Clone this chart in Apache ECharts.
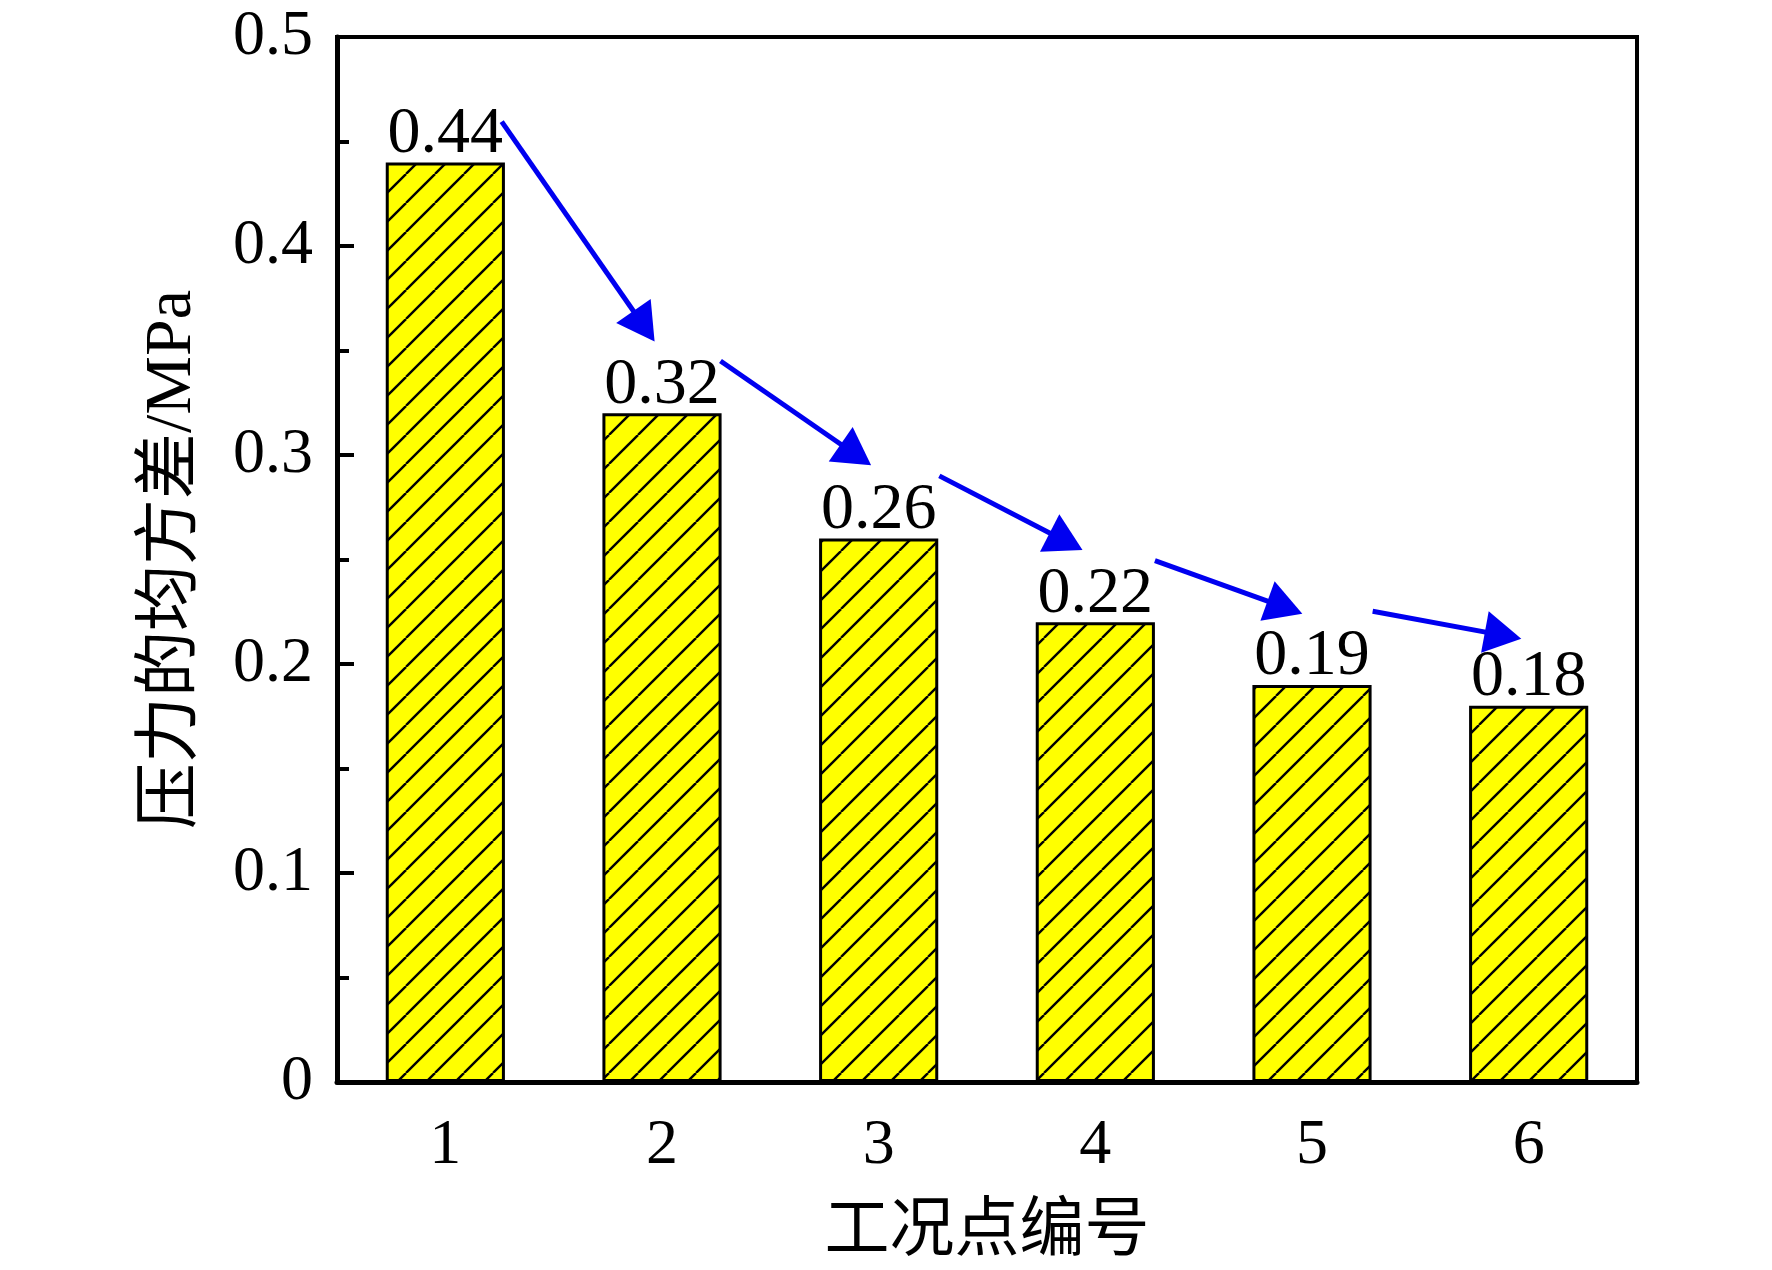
<!DOCTYPE html>
<html>
<head>
<meta charset="utf-8">
<script src="https://cdn.jsdelivr.net/npm/echarts@6/dist/echarts.min.js"></script>
<style>
html,body{margin:0;padding:0;background:#fff;}
#main{width:1772px;height:1270px;}
</style>
</head>
<body>
<div id="main"></div>
<script>
// ---- data ----
var categories = ['1', '2', '3', '4', '5', '6'];
var values = [0.44, 0.32, 0.26, 0.22, 0.19, 0.18];
var yTicks = [0, 0.1, 0.2, 0.3, 0.4, 0.5];
var xName = '工况点编号';
var yName = '压力的均方差/MPa';
// arrow annotations: [start x (category number), start y, end x, end y]
var arrowStarts = [[1.26, 0.4595], [2.27, 0.345], [3.28, 0.290], [4.275, 0.2495], [5.28, 0.2252]];
var arrowEnds = [[1.917, 0.3616], [2.895, 0.3001], [3.865, 0.2586], [4.875, 0.2271], [5.882, 0.2137]];

// ---- hatch pattern ----
function makeHatch() {
  var s = 29;
  var c = document.createElement('canvas');
  c.width = s; c.height = s;
  var g = c.getContext('2d');
  g.fillStyle = '#FFFF00';
  g.fillRect(0, 0, s, s);
  g.strokeStyle = '#000';
  g.lineWidth = 2.4;
  [-s, 0, s].forEach(function (k) {
    g.beginPath();
    g.moveTo(k, s);
    g.lineTo(k + s, 0);
    g.stroke();
  });
  return c;
}

var serif = 'Liberation Serif, "Times New Roman", "Noto Sans CJK SC", serif';
var chart = echarts.init(document.getElementById('main'));

var arrowData = arrowStarts.map(function (p, i) {
  return [{ coord: p }, { coord: arrowEnds[i] }];
});

var option = {
  animation: false,
  backgroundColor: '#fff',
  grid: {
    left: 337, top: 37, right: 135, bottom: 185,
    show: true, borderColor: '#000', borderWidth: 4, backgroundColor: 'transparent'
  },
  xAxis: [{
    type: 'category',
    data: categories,
    z: 10,
    name: xName,
    nameLocation: 'middle',
    nameGap: 118,
    nameTextStyle: { fontFamily: serif, fontSize: 65, color: '#000' },
    axisLine: { lineStyle: { color: '#000', width: 5 } },
    axisTick: { inside: true, alignWithLabel: true, length: 17, lineStyle: { color: '#000', width: 3 } },
    axisLabel: { fontFamily: serif, fontSize: 64, color: '#000', margin: 32 },
    splitLine: { show: false }
  }, {
    type: 'value', min: 0.5, max: 6.5, show: false
  }],
  yAxis: {
    type: 'value',
    min: yTicks[0], max: yTicks[yTicks.length - 1], interval: 0.1,
    z: 10,
    name: yName,
    nameLocation: 'middle',
    nameGap: 131,
    nameTextStyle: { fontFamily: serif, fontSize: 66, color: '#000' },
    axisLine: { show: true, lineStyle: { color: '#000', width: 5 } },
    axisTick: { inside: true, length: 17, lineStyle: { color: '#000', width: 4 } },
    minorTick: { show: true, splitNumber: 2, length: 12, lineStyle: { color: '#000', width: 4 } },
    axisLabel: { fontFamily: serif, fontSize: 64, color: '#000', margin: 24 },
    splitLine: { show: false }
  },
  series: [{
    type: 'bar',
    data: values,
    barWidth: '55%',
    itemStyle: {
      color: { image: makeHatch(), repeat: 'repeat' },
      borderColor: '#000',
      borderWidth: 3
    },
    label: {
      show: true, position: 'top', distance: 0, offset: [0, 5],
      fontFamily: serif, fontSize: 66, color: '#000',
      formatter: function (p) { return p.value.toFixed(2); }
    }
  }, {
    type: 'line',
    xAxisIndex: 1,
    data: [],
    markLine: {
      silent: true,
      symbol: ['none', 'triangle'],
      symbolSize: [42, 37],
      label: { show: false },
      lineStyle: { color: '#0000F0', width: 5, type: 'solid' },
      itemStyle: { color: '#0000F0' },
      data: arrowData
    }
  }]
};
chart.setOption(option);
</script>
</body>
</html>
